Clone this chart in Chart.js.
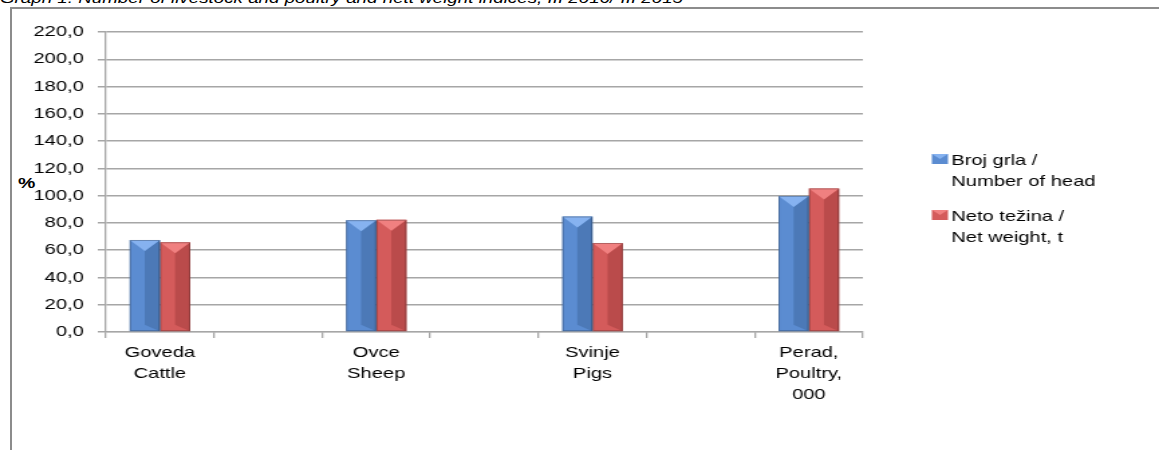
<!DOCTYPE html>
<html>
<head>
<meta charset="utf-8">
<script src="https://cdn.jsdelivr.net/npm/chart.js@4.4.0/dist/chart.umd.min.js"></script>
<style>
    html, body { margin: 0; padding: 0; background: #fff; }
    #wrap { position: relative; width: 1159px; height: 450px; overflow: hidden; font-family: 'Liberation Sans', Arial, sans-serif; }
    #frame { position: absolute; left: 10px; top: 7px; width: 1300px; height: 600px; border: 2px solid #8c8c8c; box-sizing: border-box; }
    #title { position: absolute; left: 0; top: -9px; font-size: 14px; line-height: 14px; font-style: italic; color: #000; white-space: nowrap; transform: scaleX(1.34); transform-origin: 0 0; }
    #unit { position: absolute; left: 18px; top: 174px; font-size: 15px; font-weight: bold; color: #000; transform: scaleX(1.3); transform-origin: 0 0; }
    canvas { position: absolute; left: 0; top: 0; }
</style>
</head>
<body>
<div id="wrap">
    <div id="title">Graph 1. Number of livestock and poultry and nett weight indices, III 2016/ III 2015</div>
    <div id="frame"></div>
    <div id="unit">%</div>
    <!-- the original picture is stretched sideways, so the canvas is drawn narrow and widened by css -->
    <canvas id="LivestockChart" width="865" height="450" style="width:1159px;height:450px"></canvas>
</div>
<script>
// Categories (empty slots keep the wide gaps between groups)
const categories = [
    ['Goveda', 'Cattle'], '',
    ['Ovce', 'Sheep'], '',
    ['Svinje', 'Pigs'], '',
    ['Perad,', 'Poultry,', '000']
];

// Series values, %
const numberOfHead = [67.5, null, 82.0, null, 84.7, null, 99.8];
const netWeight = [65.8, null, 82.3, null, 65.3, null, 105.3];

// Legend labels
const headLabel = ['Broj grla /', 'Number of head'];
const weightLabel = ['Neto težina /', 'Net weight, t'];

// Y axis ticks
const yMin = 0;
const yMax = 220;
const yStep = 20;

// Colors
const blue = { base: '#5b8cd1', dark: '#4773ad', light: '#86b2f0' };
const red = { base: '#d45b5b', dark: '#b24545', light: '#f08080' };
const gridColor = '#a6a6a6';
const fontFamily = "'Liberation Sans', Arial, sans-serif";

// Gives the bars their bevelled look
const bevelPlugin = {
    id: 'bevel',
    afterDatasetsDraw(chart) {
        const ctx = chart.ctx;
        chart.data.datasets.forEach((ds, i) => {
            const pal = ds.palette;
            chart.getDatasetMeta(i).data.forEach((bar, j) => {
                if (ds.data[j] == null) return;
                const left = bar.x - bar.width / 2;
                const right = bar.x + bar.width / 2;
                const top = bar.y;
                const bottom = bar.base;
                const tri = 11;
                ctx.save();
                // right half darker
                ctx.fillStyle = pal.dark;
                ctx.globalAlpha = 0.75;
                ctx.beginPath();
                ctx.moveTo(bar.x, top + tri);
                ctx.lineTo(right, top);
                ctx.lineTo(right, bottom);
                ctx.lineTo(bar.x, bottom - tri * 0.6);
                ctx.closePath();
                ctx.fill();
                // top light triangle
                ctx.globalAlpha = 1;
                ctx.fillStyle = pal.light;
                ctx.beginPath();
                ctx.moveTo(left, top);
                ctx.lineTo(right, top);
                ctx.lineTo(bar.x, top + tri);
                ctx.closePath();
                ctx.fill();
                // outline
                ctx.strokeStyle = 'rgba(0,0,0,0.25)';
                ctx.lineWidth = 1;
                ctx.strokeRect(left + 0.5, top + 0.5, bar.width - 1, bottom - top - 1);
                ctx.restore();
            });
        });
    }
};

// Legend with two-line labels on the right
const sideLegend = {
    id: 'sideLegend',
    afterDraw(chart) {
        const ctx = chart.ctx;
        const x = 695.5;
        const rows = [165, 221];
        ctx.save();
        ctx.font = '15px ' + fontFamily;
        ctx.textBaseline = 'alphabetic';
        chart.data.datasets.forEach((ds, i) => {
            const y = rows[i];
            ctx.fillStyle = ds.palette.base;
            ctx.fillRect(x, y - 11, 12, 10);
            ctx.fillStyle = ds.palette.light;
            ctx.beginPath();
            ctx.moveTo(x, y - 11);
            ctx.lineTo(x + 12, y - 11);
            ctx.lineTo(x + 6, y - 6);
            ctx.closePath();
            ctx.fill();
            ctx.fillStyle = '#000';
            ds.legendLines.forEach((line, k) => {
                ctx.fillText(line, x + 14.5, y + k * 21);
            });
        });
        ctx.restore();
    }
};

const ctx = document.getElementById('LivestockChart');

const config = {
    type: 'bar',
    data: {
        labels: categories,
        datasets: [
            {
                label: headLabel.join(' '),
                legendLines: headLabel,
                palette: blue,
                data: numberOfHead,
                backgroundColor: blue.base
            },
            {
                label: weightLabel.join(' '),
                legendLines: weightLabel,
                palette: red,
                data: netWeight,
                backgroundColor: red.base
            }
        ]
    },
    options: {
        responsive: false,
        animation: false,
        devicePixelRatio: 1,
        categoryPercentage: 0.56,
        barPercentage: 1,
        layout: {
            padding: { top: 32, right: 221, left: 0, bottom: 0 }
        },
        plugins: {
            legend: { display: false },
            tooltip: { enabled: false },
            title: { display: false }
        },
        scales: {
            x: {
                grid: {
                    offset: true,
                    drawOnChartArea: false,
                    drawTicks: true,
                    tickLength: 6,
                    color: gridColor,
                    lineWidth: 1.3
                },
                border: { display: true, color: gridColor, width: 1.3 },
                ticks: {
                    color: '#000',
                    font: { family: fontFamily, size: 15, lineHeight: 1.42 },
                    padding: 4,
                    maxRotation: 0,
                    autoSkip: false
                },
                afterFit(scale) { scale.height = 118; }
            },
            y: {
                min: yMin,
                max: yMax,
                grid: {
                    color: gridColor,
                    lineWidth: 1.5,
                    tickLength: 6
                },
                border: { display: true, color: gridColor, width: 1.3 },
                ticks: {
                    stepSize: yStep,
                    color: '#000',
                    padding: 10.5,
                    font: { family: fontFamily, size: 15 },
                    callback: v => v.toFixed(1).replace('.', ',')
                },
                afterFit(scale) { scale.width = 79; }
            }
        }
    },
    plugins: [bevelPlugin, sideLegend]
};

new Chart(ctx, config);
</script>
</body>
</html>
